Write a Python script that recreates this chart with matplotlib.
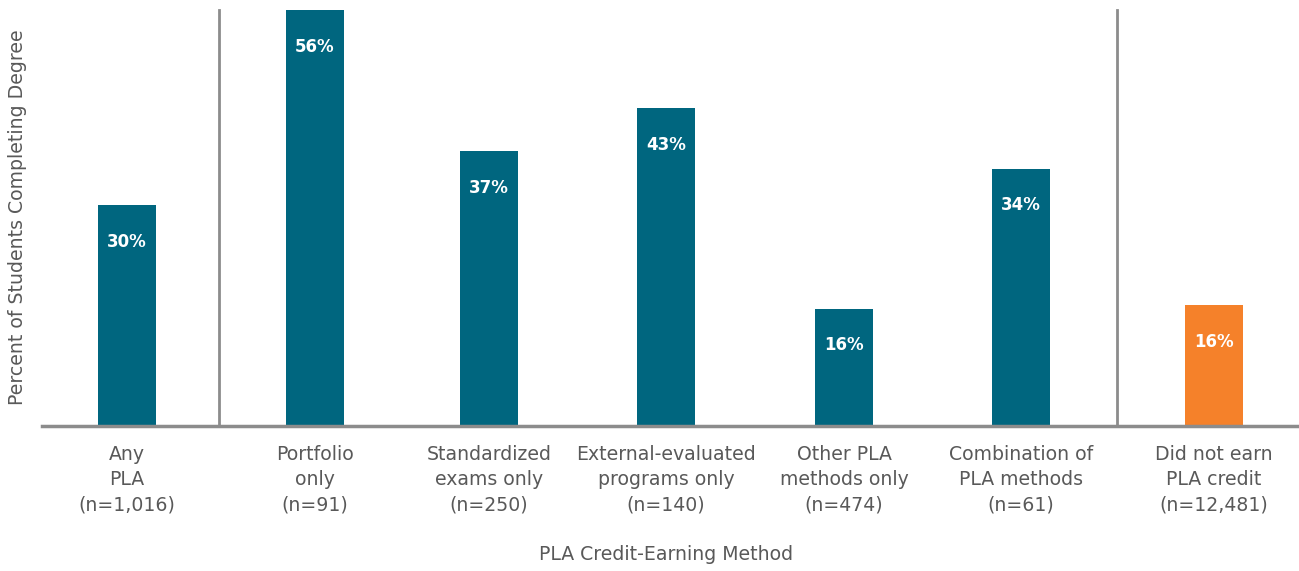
import matplotlib
matplotlib.use("Agg")
import matplotlib.pyplot as plt

categories = ["Any\nPLA\n(n=1,016)",
              "Portfolio\nonly\n(n=91)",
              "Standardized\nexams only\n(n=250)",
              "External-evaluated\nprograms only\n(n=140)",
              "Other PLA\nmethods only\n(n=474)",
              "Combination of\nPLA methods\n(n=61)",
              "Did not earn\nPLA credit\n(n=12,481)"]
values = [29.7, 56.0, 37.0, 42.8, 15.7, 34.6, 16.2]
labels = ["30%", "56%", "37%", "43%", "16%", "34%", "16%"]

# layout (bar centres, in pixels of the original)
xpos = [127, 315, 489, 666, 844, 1021, 1214]
seps = [219, 1117]

teal = "#00667f"
orange = "#f5812a"
grey = "#595959"
colors = [teal] * 6 + [orange]

plt.rcParams['font.family'] = ['DejaVu Sans']

fig = plt.figure(figsize=(12.99, 5.71), dpi=100)
ax = fig.add_axes([42 / 1299, 1 - 425.5 / 571, 1 - 42 / 1299, 425.5 / 571])

ax.bar(xpos, values, width=58, color=colors, zorder=2)
for x, v, l in zip(xpos, values, labels):
    ax.text(x, v - 4.9, l, ha="center", va="center", color="white",
            fontsize=12, fontweight="bold")

for s in seps:
    ax.plot([s, s], [0, 56.1], color="#8c8c8c", lw=2, zorder=1)

ax.set_xlim(42, 1299)
ax.set_ylim(0, 57.4)
ax.set_xticks(xpos)
ax.set_xticklabels(categories, color=grey, fontsize=13.6, linespacing=1.42)
ax.tick_params(axis="x", length=0, pad=14)
ax.set_yticks([])
for sp in ["top", "right", "left"]:
    ax.spines[sp].set_visible(False)
ax.spines["bottom"].set_color("#8c8c8c")
ax.spines["bottom"].set_linewidth(2.5)

fig.text(18 / 1299, 1 - 217 / 571, "Percent of Students Completing Degree",
         rotation=90, ha="center", va="center", color=grey, fontsize=13.6)
fig.text(666 / 1299, 1 - 555 / 571, "PLA Credit-Earning Method",
         ha="center", va="center", color=grey, fontsize=13.6)

fig.savefig("out.png", dpi=100)
